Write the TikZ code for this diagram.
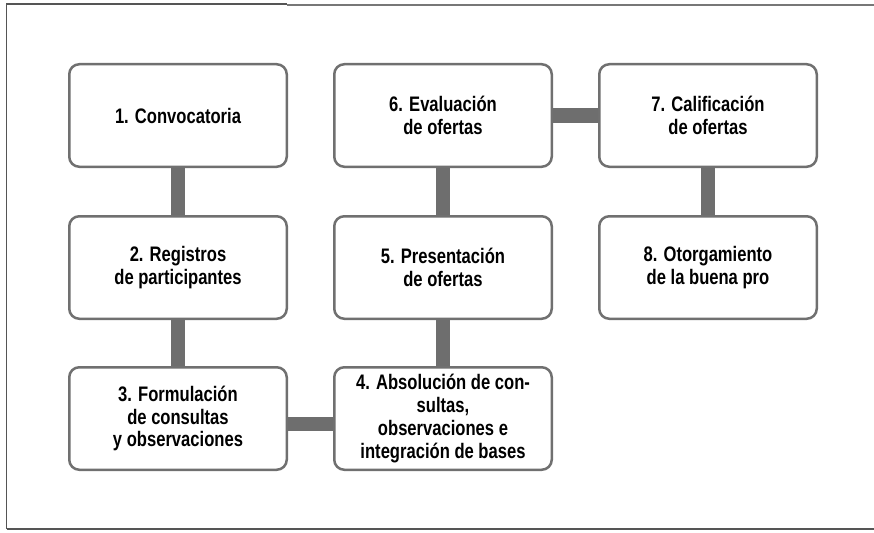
\documentclass[tikz,border=0pt]{standalone}
\usepackage{fontspec}
\setmainfont{Liberation Sans}[FakeStretch=0.79]
\usetikzlibrary{backgrounds}
\definecolor{boxgray}{HTML}{707070}
\definecolor{linkgray}{HTML}{6E6E6E}
\definecolor{framegray}{HTML}{555555}
\begin{document}
\begin{tikzpicture}[x=1pt,y=-1pt,
  stepbox/.style={draw=boxgray, line width=2.5pt, rounded corners=10pt, fill=white,
    minimum width=217.5pt, minimum height=102.5pt, align=center,
    font=\fontsize{21}{22.8}\selectfont\bfseries, inner sep=2pt},
  link/.style={draw=linkgray, line width=14pt},
  frameline/.style={draw=framegray, line width=1.2pt}]
\useasboundingbox (0,0) rectangle (874,532);
% frame
\coordinate (f1) at (6.5,4);
\coordinate (f2) at (287,4);
\coordinate (f3) at (287,5);
\coordinate (f4) at (874,5);
\coordinate (f5) at (6.5,529);
\coordinate (f6) at (874,529);
\draw[frameline] (f5) -- (f1) -- (f2);
\draw[frameline, draw=framegray!80] (f3) -- (f4);
\draw[frameline] (f5) -- (f6);
% boxes
\node[stepbox] (b1) at (178,115.5) {1. Convocatoria};
\node[stepbox] (b2) at (178,267.5) {2. Registros\\de participantes};
\node[stepbox] (b3) at (178,418.5) {3. Formulación\\de consultas\\y observaciones};
\node[stepbox] (b4) at (443,418.5) {4. Absolución de con-\\sultas,\\observaciones e\\integración de bases};
\node[stepbox] (b5) at (443,267.5) {5. Presentación\\de ofertas};
\node[stepbox] (b6) at (443,115.5) {6. Evaluación\\de ofertas};
\node[stepbox] (b7) at (708,115.5) {7. Calificación\\de ofertas};
\node[stepbox] (b8) at (708,267.5) {8. Otorgamiento\\de la buena pro};
% connectors
\begin{scope}[on background layer]
\draw[link] (b1.south) -- (b2.north);
\draw[link] (b2.south) -- (b3.north);
\draw[link] ([yshift=-5.5pt]b3.east) -- ([yshift=-5.5pt]b4.west);
\draw[link] (b4.north) -- (b5.north);
\draw[link] (b5.north) -- (b6.south);
\draw[link] (b6.east) -- (b7.west);
\draw[link] (b7.south) -- (b8.north);
\end{scope}
\end{tikzpicture}
\end{document}
